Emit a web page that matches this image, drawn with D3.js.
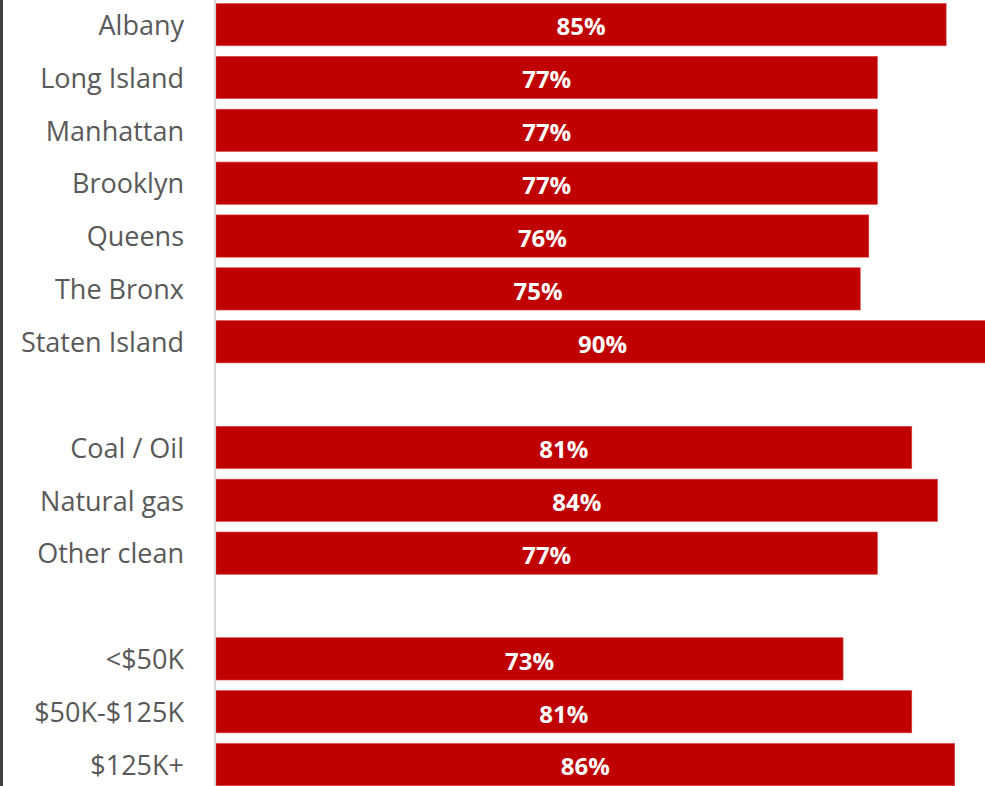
<!DOCTYPE html>
<html>
<head>
<meta charset="utf-8">
<script src="https://cdn.jsdelivr.net/npm/d3@7"></script>
<style>
    body { margin: 0; background: #fff; }
    .label { font-family: "Open Sans", sans-serif; fill: #595959; }
    .value { font-family: "Open Sans", sans-serif; font-weight: bold; fill: #fff; }
</style>
</head>
<body>
<script>
    // categories, blank strings are the gaps between groups
    let categories = ["Albany", "Long Island", "Manhattan", "Brooklyn", "Queens", "The Bronx", "Staten Island",
        "", "Coal / Oil", "Natural gas", "Other clean",
        " ", "<$50K", "$50K-$125K", "$125K+"];
    let values = [85, 77, 77, 77, 76, 75, 90,
        null, 81, 84, 77,
        null, 73, 81, 86];

    let width = 985,
        height = 786;

    const svg = d3.select("body")
        .append("svg")
        .attr("width", width)
        .attr("height", height);

    const xScale = d3.scaleLinear()
        .domain([0, 100])
        .range([216, 1075]);

    const yScale = d3.scaleBand()
        .domain(categories)
        .range([-1.8, 791.0])
        .paddingInner(0.2)
        .paddingOuter(0.1);

    const rows = categories.map(function(c, i){
        return {name: c, value: values[i]};
    });
    const data = rows.filter(function(d){ return d.value != null; });

    //dark frame line on the left
    svg.append("rect")
        .attr("x", 0)
        .attr("y", 0)
        .attr("width", 3)
        .attr("height", height)
        .attr("fill", "#404040");

    //bars
    svg.selectAll(".bar")
        .data(data)
        .enter()
        .append("rect")
        .attr("class", "bar")
        .attr("x", xScale(0))
        .attr("y", function(d){ return yScale(d.name); })
        .attr("width", function(d){ return xScale(d.value) - xScale(0); })
        .attr("height", yScale.bandwidth())
        .attr("fill", "#c00000")
        .attr("stroke", "#d84848")
        .attr("stroke-width", 0.6);

    //vertical axis line
    svg.append("line")
        .attr("x1", 215)
        .attr("x2", 215)
        .attr("y1", 0)
        .attr("y2", height)
        .attr("stroke", "#d9d9d9")
        .attr("stroke-width", 2);

    //category labels
    svg.selectAll(".label")
        .data(data)
        .enter()
        .append("text")
        .attr("class", "label")
        .attr("x", 184)
        .attr("y", function(d){ return yScale(d.name) + yScale.bandwidth() / 2; })
        .attr("dy", "0.38em")
        .attr("text-anchor", "end")
        .style("font-size", "27px")
        .text(function(d){ return d.name; });

    //value labels centred in each bar
    svg.selectAll(".value")
        .data(data)
        .enter()
        .append("text")
        .attr("class", "value")
        .attr("x", function(d){ return (xScale(0) + xScale(d.value)) / 2; })
        .attr("y", function(d){ return yScale(d.name) + yScale.bandwidth() / 2; })
        .attr("dy", "0.45em")
        .attr("text-anchor", "middle")
        .style("font-size", "24px")
        .text(function(d){ return d.value + "%"; });
</script>
</body>
</html>
